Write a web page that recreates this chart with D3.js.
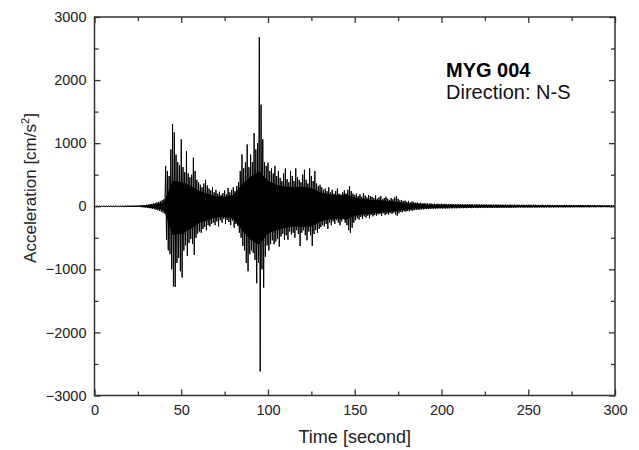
<!DOCTYPE html>
<html>
<head>
<meta charset="utf-8">
<script src="https://cdn.jsdelivr.net/npm/d3@7"></script>
<style>
  body { margin: 0; background: #fff; }
  svg { display: block; font-family: "Liberation Sans", Arial, sans-serif; }
</style>
</head>
<body>
<div id="chart"></div>
<script>
// Peak acceleration per 1-second window (cm/s^2)
const upperPeak = [
  6,5,6,5,6,7,5,6,5,6,
  6,5,7,6,5,6,7,6,8,7,
  8,9,8,10,9,11,12,15,18,20,
  24,28,32,38,44,52,60,70,82,95,
  110,640,560,480,900,1300,1170,820,700,650,
  1060,620,540,870,520,460,500,770,560,420,
  380,340,300,360,420,330,280,250,300,220,
  260,200,230,180,210,250,190,290,220,260,
  300,240,320,380,560,820,600,700,980,620,
  820,700,1160,900,1000,2680,1610,1060,700,640,
  690,560,600,520,640,480,560,450,400,520,
  600,430,380,560,480,400,600,460,420,380,
  500,580,420,360,600,480,400,560,360,320,
  340,300,260,280,240,300,220,260,200,240,
  280,200,180,220,250,200,260,320,240,200,
  180,200,160,190,150,210,170,140,180,160,
  150,130,170,120,140,160,110,130,150,120,
  100,130,110,140,160,120,90,100,80,90,
  70,85,60,75,65,55,60,50,55,45,
  50,42,48,40,45,38,42,36,40,35,
  40,36,38,34,37,33,35,32,34,31,
  33,30,32,29,31,30,28,31,29,27,
  30,28,29,27,28,26,29,25,27,26,
  27,25,28,24,26,25,24,27,23,25,
  25,23,26,22,24,23,22,25,21,24,
  23,24,21,23,25,21,22,20,23,21,
  22,20,23,19,21,20,19,22,18,20,
  20,21,18,19,21,18,20,17,19,18,
  19,20,17,18,17,19,16,17,18,16,
  17,16,18,15,16,17,15,16,15,16
];
const lowerPeak = [
  -5,-6,-5,-6,-5,-6,-6,-5,-6,-5,
  -6,-7,-5,-6,-7,-6,-5,-7,-6,-8,
  -8,-9,-10,-9,-11,-10,-13,-16,-18,-22,
  -25,-30,-34,-40,-46,-55,-62,-74,-85,-100,
  -115,-530,-700,-760,-1000,-1270,-1280,-900,-820,-1030,
  -1130,-700,-620,-790,-580,-520,-600,-770,-500,-430,
  -400,-420,-360,-330,-380,-300,-320,-280,-260,-300,
  -240,-320,-220,-260,-200,-280,-220,-250,-300,-230,
  -340,-280,-310,-420,-500,-630,-700,-900,-1030,-760,
  -700,-740,-850,-1220,-900,-2620,-1000,-1290,-800,-620,
  -700,-600,-540,-600,-560,-520,-640,-480,-440,-530,
  -460,-530,-400,-450,-420,-500,-380,-440,-630,-420,
  -380,-460,-540,-400,-460,-630,-440,-380,-420,-360,
  -330,-300,-320,-280,-360,-260,-300,-240,-280,-220,
  -260,-300,-240,-200,-260,-300,-380,-420,-340,-260,
  -220,-190,-210,-170,-200,-160,-180,-150,-190,-140,
  -160,-140,-150,-130,-120,-150,-110,-140,-120,-130,
  -110,-120,-100,-130,-150,-110,-90,-95,-80,-85,
  -75,-80,-65,-70,-60,-58,-55,-52,-50,-48,
  -46,-44,-45,-40,-42,-38,-40,-35,-38,-34,
  -38,-35,-37,-33,-36,-32,-34,-31,-33,-30,
  -32,-29,-31,-28,-30,-29,-27,-30,-28,-26,
  -29,-27,-28,-26,-27,-25,-28,-24,-26,-25,
  -26,-24,-27,-23,-25,-24,-23,-26,-22,-24,
  -24,-22,-25,-21,-23,-22,-21,-24,-20,-23,
  -22,-23,-20,-22,-24,-20,-21,-19,-22,-20,
  -21,-19,-22,-18,-20,-19,-18,-21,-17,-19,
  -19,-20,-17,-18,-20,-17,-19,-16,-18,-17,
  -18,-19,-16,-17,-16,-18,-15,-16,-17,-15,
  -16,-15,-17,-14,-15,-16,-14,-15,-14,-15
];
const seconds = d3.range(upperPeak.length);

// dense core of the record (where the trace is solid black), every 5 s
const coreTimes = [
  0,5,10,15,20,25,30,35,40,45,50,55,60,65,70,75,80,85,90,95,
  100,105,110,115,120,125,130,135,140,145,150,155,160,165,170,175,180,185,190,195,
  200,205,210,215,220,225,230,235,240,245,250,255,260,265,270,275,280,285,290,295,300
];
const coreUpper = [
  4,4,4,5,6,8,15,30,60,400,390,330,250,200,160,150,180,340,470,560,
  400,340,310,300,310,290,220,190,180,190,140,120,100,95,85,65,48,38,30,25,
  22,20,19,18,17,16,15,14,14,13,13,12,12,11,11,10,10,9,9,8,8
];
const coreLower = [
  -4,-4,-4,-5,-6,-8,-15,-30,-60,-450,-440,-370,-270,-220,-180,-170,-200,-380,-530,-610,
  -430,-380,-340,-320,-330,-320,-240,-210,-200,-210,-150,-130,-115,-105,-90,-72,-52,-40,-32,-26,
  -22,-20,-19,-18,-17,-16,-15,-14,-14,-13,-13,-12,-12,-11,-11,-10,-10,-9,-9,-8,-8
];

const xMajor = [0, 50, 100, 150, 200, 250, 300];
const xMinor = [25, 75, 125, 175, 225, 275];
const yMajor = [-3000, -2000, -1000, 0, 1000, 2000, 3000];
const yMinor = [-2500, -1500, -500, 500, 1500, 2500];

const stationName = "MYG 004";
const directionLabel = "Direction: N-S";

const W = 639, H = 450;
const margin = { top: 17, right: 24, bottom: 54.5, left: 94.5 };
const width = W - margin.left - margin.right;
const height = H - margin.top - margin.bottom;

const x = d3.scaleLinear().domain([0, 300]).range([0, width]);
const y = d3.scaleLinear().domain([-3000, 3000]).range([height, 0]);

const svg = d3.select("#chart").append("svg")
  .attr("width", W)
  .attr("height", H);

const g = svg.append("g")
  .attr("transform", `translate(${margin.left},${margin.top})`);

g.append("clipPath").attr("id", "plot-clip")
  .append("rect").attr("width", width).attr("height", height);

// solid core band
const core = coreTimes.map((t, i) => ({ t, hi: coreUpper[i], lo: coreLower[i] }));
const band = d3.area()
  .x(d => x(d.t))
  .y0(d => y(d.lo))
  .y1(d => y(d.hi));

g.append("path")
  .datum(core)
  .attr("clip-path", "url(#plot-clip)")
  .attr("fill", "#000")
  .attr("d", band);

// spiky trace: alternate between the positive and negative peak of each window
const trace = [];
seconds.forEach((t, i) => {
  trace.push([t, upperPeak[i]]);
  trace.push([t + 0.5, lowerPeak[i]]);
});

const line = d3.line()
  .x(d => x(d[0]))
  .y(d => y(d[1]));

g.append("path")
  .datum(trace)
  .attr("clip-path", "url(#plot-clip)")
  .attr("fill", "none")
  .attr("stroke", "#000")
  .attr("stroke-width", 1)
  .attr("d", line);

const axisColor = "#333";
const fmt = d3.format("d");

function styleAxis(sel) {
  sel.select(".domain").remove();
  sel.selectAll(".tick line").attr("stroke", axisColor).attr("stroke-width", 1.3);
  sel.selectAll(".tick text").attr("fill", "#222").attr("font-size", 14.5);
}

// major ticks with labels
g.append("g").attr("transform", `translate(0,${height})`)
  .call(d3.axisBottom(x).tickValues(xMajor).tickFormat(fmt).tickSize(-6).tickPadding(9))
  .call(styleAxis);
g.append("g")
  .call(d3.axisLeft(y).tickValues(yMajor).tickFormat(fmt).tickSize(-6).tickPadding(8))
  .call(styleAxis);
// mirrored ticks, no labels
g.append("g")
  .call(d3.axisTop(x).tickValues(xMajor).tickFormat("").tickSize(-6))
  .call(styleAxis);
g.append("g").attr("transform", `translate(${width},0)`)
  .call(d3.axisRight(y).tickValues(yMajor).tickFormat("").tickSize(-6))
  .call(styleAxis);
// minor ticks
g.append("g").attr("transform", `translate(0,${height})`)
  .call(d3.axisBottom(x).tickValues(xMinor).tickFormat("").tickSize(-4))
  .call(styleAxis);
g.append("g")
  .call(d3.axisTop(x).tickValues(xMinor).tickFormat("").tickSize(-4))
  .call(styleAxis);
g.append("g")
  .call(d3.axisLeft(y).tickValues(yMinor).tickFormat("").tickSize(-4))
  .call(styleAxis);
g.append("g").attr("transform", `translate(${width},0)`)
  .call(d3.axisRight(y).tickValues(yMinor).tickFormat("").tickSize(-4))
  .call(styleAxis);

// frame
g.append("rect")
  .attr("width", width)
  .attr("height", height)
  .attr("fill", "none")
  .attr("stroke", axisColor)
  .attr("stroke-width", 1.5);

// axis titles
svg.append("text")
  .attr("x", margin.left + width / 2)
  .attr("y", 443)
  .attr("text-anchor", "middle")
  .attr("font-size", 18)
  .attr("fill", "#222")
  .text("Time [second]");

const yTitle = svg.append("text")
  .attr("transform", "translate(36,188) rotate(-90)")
  .attr("text-anchor", "middle")
  .attr("font-size", 17)
  .attr("fill", "#222");
yTitle.append("tspan").text("Acceleration [cm/s");
yTitle.append("tspan").attr("font-size", 11).attr("dy", -7).text("2");
yTitle.append("tspan").attr("dy", 7).text("]");

// station annotation
svg.append("text")
  .attr("x", 446)
  .attr("y", 77)
  .attr("font-size", 20)
  .attr("font-weight", "bold")
  .attr("fill", "#000")
  .text(stationName);
svg.append("text")
  .attr("x", 446)
  .attr("y", 99)
  .attr("font-size", 20)
  .attr("fill", "#111")
  .text(directionLabel);
</script>
</body>
</html>
